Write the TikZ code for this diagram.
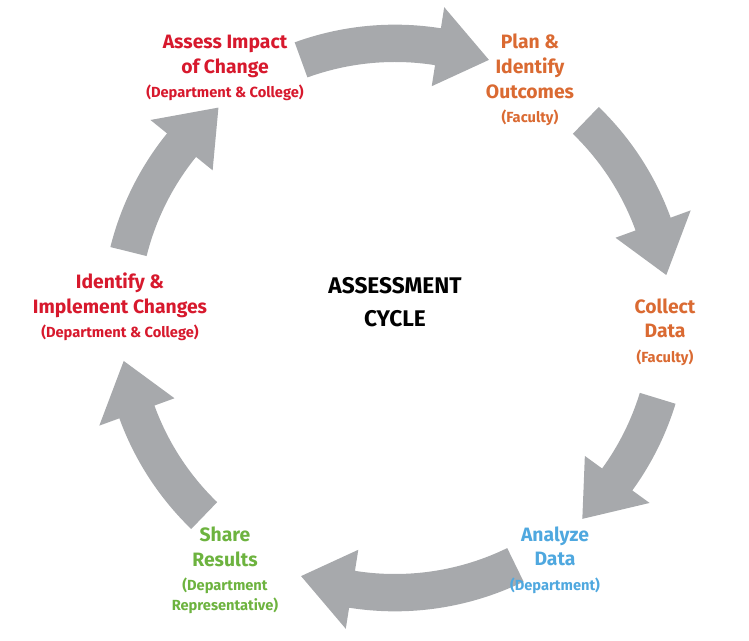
\documentclass[tikz,border=0pt]{standalone}
\usepackage{fontspec}
\setmainfont{Fira Sans}
\usetikzlibrary{positioning}
\definecolor{arrowgray}{HTML}{A7A9AC}
\definecolor{stepred}{HTML}{D7192D}
\definecolor{steporange}{HTML}{DA6A32}
\definecolor{stepblue}{HTML}{4FA8DF}
\definecolor{stepgreen}{HTML}{6DB33F}
\newcommand\cyclearrow[2]{%
  \fill[arrowgray] (#1:192pt) arc[start angle=#1,end angle=#2+11,radius=192pt]
    -- (#2+11:176pt) -- (#2:206pt) -- (#2+11:236pt) -- (#2+11:220pt)
    arc[start angle=#2+11,end angle=#1,radius=220pt] -- cycle;}
\newcommand\whofont{\fontsize{11}{14}\selectfont}
\begin{document}
\begin{tikzpicture}[x=0.75pt,y=-0.75pt,
    steplabel/.style={align=center,font=\bfseries\fontsize{14.5}{18.5}\selectfont}]
  \useasboundingbox (0,0) rectangle (749,641);
  \begin{scope}[shift={(395,318)}]
    \cyclearrow{110}{70}
    \cyclearrow{46}{9}
    \cyclearrow{-17}{-47}
    \cyclearrow{-64}{-110}
    \cyclearrow{-134}{-171}
    \cyclearrow{166}{130}
  \end{scope}
  \node[steplabel,text=stepred] (assess) at (225,68)
    {Assess Impact\\of Change\\{\whofont (Department \& College)}};
  \node[steplabel,text=steporange] (plan) at (530,80)
    {Plan \&\\Identify\\Outcomes\\{\whofont (Faculty)}};
  \node[steplabel,text=steporange] (collect) at (665,332)
    {Collect\\Data\\{\whofont (Faculty)}};
  \node[steplabel,text=stepblue] (analyze) at (555,560)
    {Analyze\\Data\\{\whofont (Department)}};
  \node[steplabel,text=stepgreen] (share) at (225,570)
    {Share\\Results\\{\whofont (Department}\\[-4pt]{\whofont Representative)}};
  \node[steplabel,text=stepred] (identify) at (120,307)
    {Identify \&\\Implement Changes\\{\whofont (Department \& College)}};
  \node[align=center,font=\bfseries\fontsize{17}{25}\selectfont] (cycle) at (395,302)
    {ASSESSMENT\\CYCLE};
\end{tikzpicture}
\end{document}
